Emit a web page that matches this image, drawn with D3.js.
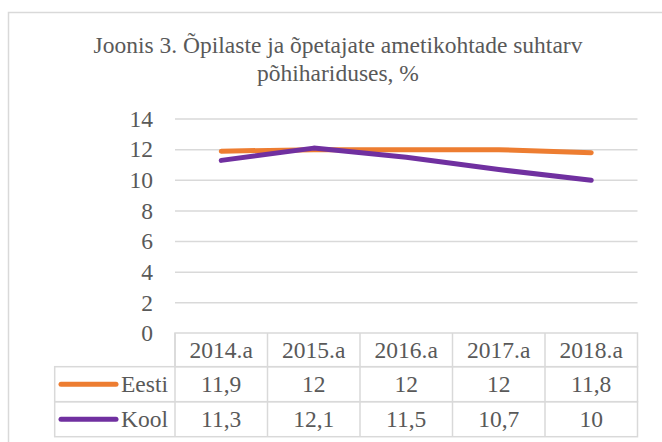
<!DOCTYPE html>
<meta charset="utf-8">
<head>
<script src="https://d3js.org/d3.v7.min.js"></script>
<style>
body { margin: 0; background: #fff; }
</style>
</head>
<body>
<div id="my_dataviz"></div>
<script>
// data
var years = ["2014.a", "2015.a", "2016.a", "2017.a", "2018.a"];
var eesti = [11.9, 12, 12, 12, 11.8];
var kool = [11.3, 12.1, 11.5, 10.7, 10];
var seriesNames = ["Eesti", "Kool"];
var yTicks = [0, 2, 4, 6, 8, 10, 12, 14];

var W = 662, H = 442;
var fontSize = 23.5;

// small helper so every label gets the same Times-like look
function label(sel) {
  return sel
    .style("font-family", "'Liberation Serif'")
    .style("font-size", fontSize + "px")
    .style("fill", "#595959");
}

var svg = d3.select("#my_dataviz")
  .append("svg")
    .attr("width", W)
    .attr("height", H);

// chart area border (runs off right and bottom edge)
svg.append("rect")
  .attr("x", 8.5).attr("y", 12.5)
  .attr("width", 700).attr("height", 500)
  .attr("fill", "#fff")
  .attr("stroke", "#d9d9d9")
  .attr("stroke-width", 1.5);

// title
var title = svg.append("text")
  .attr("x", 338)
  .attr("text-anchor", "middle")
  .call(label);
title.append("tspan").attr("x", 338).attr("y", 53)
  .text("Joonis 3. Õpilaste ja õpetajate ametikohtade suhtarv");
title.append("tspan").attr("x", 338).attr("y", 81)
  .text("põhihariduses, %");

// scales
var x = d3.scaleBand()
  .domain(years)
  .range([175, 637.5]);

var y = d3.scaleLinear()
  .domain([0, 14])
  .range([333.5, 119]);

// gridlines
svg.append("g")
  .selectAll("line")
  .data(yTicks.filter(function(d) { return d > 0; }))
  .enter().append("line")
    .attr("x1", x.range()[0]).attr("x2", x.range()[1])
    .attr("y1", function(d) { return y(d); })
    .attr("y2", function(d) { return y(d); })
    .attr("stroke", "#d9d9d9")
    .attr("stroke-width", 1.5);

// y axis labels
svg.append("g")
  .selectAll("text")
  .data(yTicks)
  .enter().append("text")
    .attr("x", 153)
    .attr("y", function(d) { return y(d); })
    .attr("dy", "0.33em")
    .attr("text-anchor", "end")
    .call(label)
    .text(function(d) { return d; });

// lines
var colors = ["#ED7D31", "#7030A0"];
var series = [eesti, kool];
var line = d3.line()
  .x(function(d, i) { return x(years[i]) + x.bandwidth() / 2; })
  .y(function(d) { return y(d); });

svg.append("g")
  .selectAll("path")
  .data(series)
  .enter().append("path")
    .attr("d", line)
    .attr("fill", "none")
    .attr("stroke", function(d, i) { return colors[i]; })
    .attr("stroke-width", 5)
    .attr("stroke-linecap", "round")
    .attr("stroke-linejoin", "round");

// data table
var rowY = [333, 366.7, 401.7, 436.7];
var tableLeft = 54.7;
var grid = svg.append("g")
  .attr("stroke", "#d9d9d9")
  .attr("stroke-width", 1.5)
  .attr("fill", "none");

// header row
grid.append("rect")
  .attr("x", x.range()[0]).attr("y", rowY[0])
  .attr("width", x.range()[1] - x.range()[0])
  .attr("height", rowY[1] - rowY[0]);
// data rows
seriesNames.forEach(function(name, r) {
  grid.append("rect")
    .attr("x", tableLeft).attr("y", rowY[r + 1])
    .attr("width", x.range()[1] - tableLeft)
    .attr("height", rowY[r + 2] - rowY[r + 1]);
});
// column separators
grid.selectAll("line")
  .data(years)
  .enter().append("line")
    .attr("x1", function(d) { return x(d); })
    .attr("x2", function(d) { return x(d); })
    .attr("y1", rowY[0]).attr("y2", rowY[3]);

// header labels
svg.append("g")
  .selectAll("text")
  .data(years)
  .enter().append("text")
    .attr("x", function(d) { return x(d) + x.bandwidth() / 2; })
    .attr("y", (rowY[0] + rowY[1]) / 2)
    .attr("dy", "0.33em")
    .attr("text-anchor", "middle")
    .call(label)
    .text(function(d) { return d; });

// row values + legend keys
var fmt = function(v) { return String(v).replace(".", ","); };
series.forEach(function(vals, r) {
  var cy = (rowY[r + 1] + rowY[r + 2]) / 2;
  var g = svg.append("g");
  g.selectAll("text")
    .data(vals)
    .enter().append("text")
      .attr("x", function(d, i) { return x(years[i]) + x.bandwidth() / 2; })
      .attr("y", cy)
      .attr("dy", "0.33em")
      .attr("text-anchor", "middle")
      .call(label)
      .text(fmt);
  g.append("line")
    .attr("x1", 61).attr("x2", 116)
    .attr("y1", cy).attr("y2", cy)
    .attr("stroke", colors[r])
    .attr("stroke-width", 5)
    .attr("stroke-linecap", "round");
  g.append("text")
    .attr("x", 168)
    .attr("y", cy)
    .attr("dy", "0.33em")
    .attr("text-anchor", "end")
    .call(label)
    .text(seriesNames[r]);
});
</script>
</body>
</html>
